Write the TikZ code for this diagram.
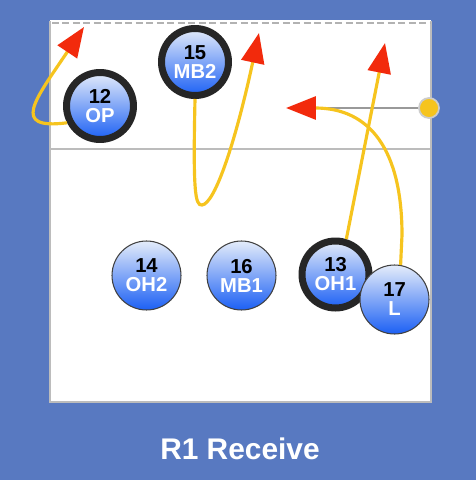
\documentclass[tikz,border=0pt]{standalone}
\usepackage{fontspec}
\setmainfont{Liberation Sans}
\usetikzlibrary{arrows.meta}
\definecolor{bgblue}{RGB}{88,121,193}
\definecolor{lineyel}{RGB}{246,196,30}
\definecolor{tipred}{RGB}{242,42,12}
\definecolor{ballblue}{RGB}{28,96,244}
\definecolor{ballmid}{RGB}{110,155,238}
\definecolor{balltop}{RGB}{228,236,250}
\definecolor{courtgray}{RGB}{188,188,188}
\begin{document}
\begin{tikzpicture}[x=0.02cm,y=-0.02cm,
  player/.style={circle, minimum size=1.38cm, inner sep=0pt, draw=black!75, line width=0.6pt,
    top color=balltop, middle color=ballmid, bottom color=ballblue, align=center,
    font=\fontsize{11.5}{10.8}\selectfont\bfseries},
  ringed/.style={player, minimum size=1.34cm, draw=black!85, line width=0.14cm},
  run/.style={draw, lineyel, line width=1.8pt, -{Triangle[length=0.6cm,width=0.46cm,color=tipred]}}]
\fill[bgblue] (0,0) rectangle (476,480);
\fill[white] (50,20) rectangle (431,402);
\draw[courtgray, line width=1.7pt] (50,21) -- (50,402) -- (431,402) -- (431,21);
\draw[courtgray, line width=1.7pt] (50,149) -- (431,149);
\draw[black!30, line width=1.6pt, dash pattern=on 0.14cm off 0.07cm] (52,23) -- (431,23);

\node[ringed] (op) at (100,106) {12\\\textcolor{white}{OP}};
\node[ringed] (mb2) at (195,62) {15\\\textcolor{white}{MB2}};
\node[player] (oh2) at (146.5,275.5) {14\\\textcolor{white}{OH2}};
\node[player] (mb1) at (241.5,275.5) {16\\\textcolor{white}{MB1}};
\node[ringed] (oh1) at (335.5,274.5) {13\\\textcolor{white}{OH1}};
\node[player] (lib) at (394.5,299.5) {17\\\textcolor{white}{L}};
\node[circle, fill=lineyel, draw=black!20, line width=1pt, minimum size=0.4cm, inner sep=0pt] (srv) at (429,108) {};

\coordinate (optip) at (84,27);
\coordinate (mbtip) at (259,33);
\coordinate (ohtip) at (385,43);
\coordinate (lbase) at (317,108);
\coordinate (ltip) at (286,108);

\draw[black!40, line width=1.2pt] (srv) -- (lbase);
\path[run] (op.207) .. controls (10,130) and (35,100) .. (optip);
\path[run] (mb2.south) .. controls (193,190) and (195,206) .. (202,205)
  .. controls (215,204) and (236,140) .. (mbtip);
\path[run] (oh1.73) -- (ohtip);
\path[run] (lib.80) -- (402,235) .. controls (402,150) and (370,108) .. (ltip);

\node[text=white, font=\fontsize{17}{20}\selectfont\bfseries] (title) at (240,449) {R1 Receive};
\end{tikzpicture}
\end{document}
